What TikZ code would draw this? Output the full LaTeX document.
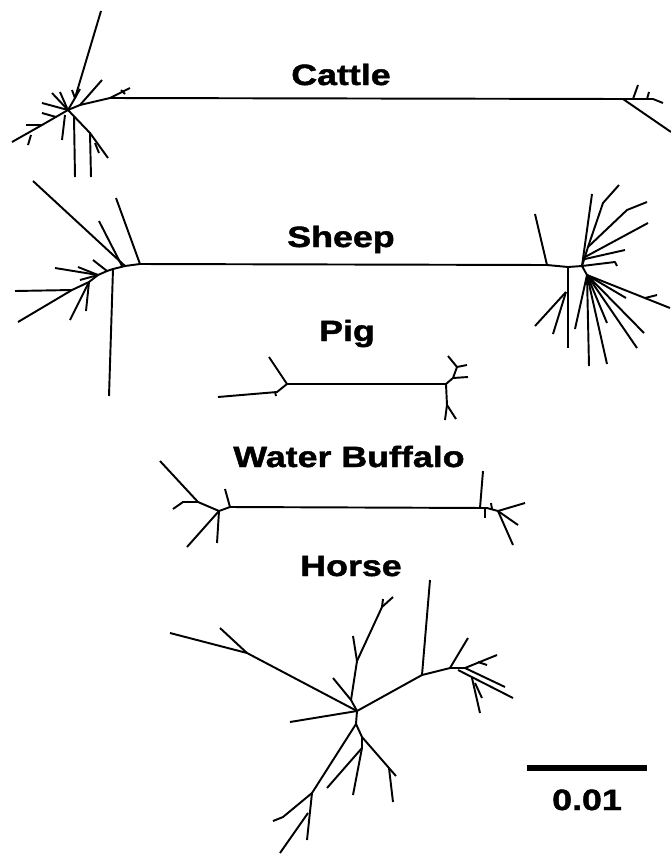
\documentclass[tikz,border=0pt]{standalone}
\usepackage{fontspec}
\newfontfamily\lblfont[FakeStretch=1.22,FakeBold=1.6]{Liberation Sans Bold}
\usepackage{tikz}

\begin{document}
\begin{tikzpicture}[x=0.75pt,y=-0.75pt,
    br/.style={line width=1.45pt,line join=round},
    lbl/.style={anchor=base,inner sep=0pt,font=\lblfont\fontsize{22}{25}\selectfont}]
  \useasboundingbox (0,0) rectangle (671,854);
  % labels
  \node[lbl] (cattle) at (341,85) {Cattle};
  \node[lbl] (sheep)  at (341,247) {Sheep};
  \node[lbl] (pig)    at (347,341) {Pig};
  \node[lbl] (buff)   at (349,467) {Water Buffalo};
  \node[lbl] (horse)  at (351,576) {Horse};
  % cattle
  \coordinate (c0) at (68,110);
  \coordinate (c1) at (80,105);
  \coordinate (c2) at (110,98);
  \coordinate (c3) at (623,99);
  \coordinate (c4) at (75,98);
  \coordinate (c5) at (42,125);
  \coordinate (c6) at (90,133);
  \draw[br] (c0) -- (c1) -- (c2) -- (c3);
  \draw[br] (c1) -- (102,80);
  \draw[br] (c2) -- (130,88);
  \draw[br] (121,90) -- (125,94);
  \draw[br] (c0) -- (c4) -- (101,11);
  \draw[br] (72,90) -- (c4) -- (80,89);
  \draw[br] (c0) -- (52,93);
  \draw[br] (60,92) -- (67,108);
  \draw[br] (c0) -- (42,103);
  \draw[br] (c0) -- (c5) -- (12,142);
  \draw[br] (c5) -- (26,125);
  \draw[br] (42,113) -- (56,117);
  \draw[br] (31,135) -- (28,145);
  \draw[br] (65,115) -- (62,140);
  \draw[br] (74,117) -- (75,177);
  \draw[br] (c0) -- (c6) -- (108,158);
  \draw[br] (c6) -- (91,177);
  \draw[br] (95,143) -- (99,153);
  \draw[br] (c3) -- (653,99) -- (663,103);
  \draw[br] (c3) -- (671,132);
  \draw[br] (633,99) -- (638,85);
  \draw[br] (647,99) -- (649,92);
  % sheep
  \coordinate (s0) at (98,275);
  \coordinate (s1) at (107,271);
  \coordinate (s2) at (113,269);
  \coordinate (s3) at (125,266);
  \coordinate (s4) at (140,264);
  \coordinate (s5) at (547,265);
  \coordinate (s6) at (568,267);
  \coordinate (s7) at (582,266);
  \coordinate (s8) at (587,275);
  \coordinate (s9) at (72,290);
  \coordinate (s10) at (89,282);
  \coordinate (s11) at (588,247);
  \draw[br] (s0) -- (s1) -- (s2) -- (s3) -- (s4) -- (s5) -- (s6) -- (s7);
  \draw[br] (s4) -- (116,198);
  \draw[br] (s3) -- (33,181);
  \draw[br] (122,266) -- (99,221);
  \draw[br] (s2) -- (109,396);
  \draw[br] (s1) -- (93,260);
  \draw[br] (s0) -- (78,267);
  \draw[br] (s0) -- (55,268);
  \draw[br] (s0) -- (80,280);
  \draw[br] (s0) -- (s10) -- (s9) -- (18,322);
  \draw[br] (s9) -- (15,291);
  \draw[br] (s10) -- (70,320);
  \draw[br] (s10) -- (86,311);
  \draw[br] (s5) -- (535,214);
  \draw[br] (s6) -- (568,348);
  \draw[br] (566,292) -- (535,326);
  \draw[br] (566,292) -- (553,334);
  \draw[br] (s7) -- (s11);
  \draw[br] (s7) -- (592,194);
  \draw[br] (s11) -- (603,203) -- (619,185);
  \draw[br] (s11) -- (627,210) -- (647,202);
  \draw[br] (585,257) -- (648,223);
  \draw[br] (585,259) -- (625,250);
  \draw[br] (s7) -- (615,262) -- (617,266);
  \draw[br] (s7) -- (s8);
  \draw[br] (s8) -- (670,308);
  \draw[br] (645,298) -- (657,295);
  \draw[br] (s8) -- (626,298);
  \draw[br] (s8) -- (607,323);
  \draw[br] (s8) -- (644,333);
  \draw[br] (s8) -- (637,348);
  \draw[br] (s8) -- (589,366);
  \draw[br] (s8) -- (607,364);
  \draw[br] (s8) -- (575,329);
  % pig
  \coordinate (p0) at (287,384);
  \coordinate (p1) at (446,384);
  \coordinate (p2) at (453,378);
  \coordinate (p3) at (457,367);
  \coordinate (p4) at (447,405);
  \draw[br] (p0) -- (p1);
  \draw[br] (p0) -- (269,357);
  \draw[br] (p0) -- (277,392) -- (218,397);
  \draw[br] (275,392) -- (276,396);
  \draw[br] (p1) -- (p2) -- (p3) -- (448,356);
  \draw[br] (p3) -- (467,365);
  \draw[br] (p2) -- (468,377);
  \draw[br] (p1) -- (p4) -- (456,419);
  \draw[br] (p4) -- (445,420);
  % water buffalo
  \coordinate (w0) at (230,507);
  \coordinate (w1) at (487,508);
  \coordinate (w2) at (219,511);
  \coordinate (w3) at (198,502);
  \coordinate (w4) at (498,511);
  \draw[br] (w2) -- (w0) -- (w1) -- (w4);
  \draw[br] (w0) -- (225,489);
  \draw[br] (w2) -- (w3) -- (160,461);
  \draw[br] (w3) -- (183,502) -- (173,509);
  \draw[br] (w2) -- (187,547);
  \draw[br] (w2) -- (217,543);
  \draw[br] (480,508) -- (483,471);
  \draw[br] (485,508) -- (485,518);
  \draw[br] (491,503) -- (492,509);
  \draw[br] (w4) -- (525,503);
  \draw[br] (w4) -- (518,525);
  \draw[br] (w4) -- (513,545);
  % horse
  \coordinate (h0) at (357,711);
  \coordinate (h1) at (356,724);
  \coordinate (h2) at (351,700);
  \coordinate (h3) at (357,661);
  \coordinate (h4) at (382,607);
  \coordinate (h5) at (247,653);
  \coordinate (h6) at (422,675);
  \coordinate (h7) at (450,668);
  \coordinate (h8) at (465,668);
  \coordinate (h9) at (312,793);
  \coordinate (h10) at (362,737);
  \coordinate (h11) at (389,768);
  \draw[br] (h0) -- (h5) -- (170,633);
  \draw[br] (h5) -- (220,628);
  \draw[br] (h0) -- (290,722);
  \draw[br] (h0) -- (h2) -- (333,678);
  \draw[br] (h2) -- (h3) -- (h4) -- (393,597);
  \draw[br] (h4) -- (383,599);
  \draw[br] (h3) -- (353,636);
  \draw[br] (h0) -- (h6) -- (h7) -- (h8) -- (497,655);
  \draw[br] (h6) -- (430,580);
  \draw[br] (h7) -- (468,638);
  \draw[br] (478,662) -- (487,665);
  \draw[br] (h8) -- (505,687);
  \draw[br] (458,670) -- (513,698);
  \draw[br] (472,678) -- (480,713);
  \draw[br] (475,683) -- (482,698);
  \draw[br] (h0) -- (h1) -- (h9) -- (307,840);
  \draw[br] (h9) -- (283,817) -- (273,821);
  \draw[br] (308,813) -- (280,853);
  \draw[br] (h1) -- (h10) -- (h11) -- (396,776);
  \draw[br] (h11) -- (393,802);
  \draw[br] (h10) -- (362,748) -- (327,788);
  \draw[br] (362,748) -- (353,795);
  % scale bar
  \coordinate (bar0) at (527,768);
  \coordinate (bar1) at (647,768);
  \draw[line width=4.5pt] (bar0) -- (bar1);
  \node[lbl] (scale) at (587,810) {0.01};
\end{tikzpicture}
\end{document}
